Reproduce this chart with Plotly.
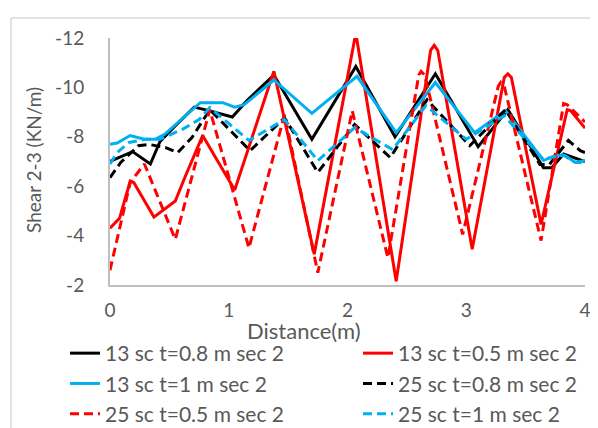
import plotly.graph_objects as go

# ---- data ----
x_13_08 = [0, 0.19, 0.34, 0.42, 0.54, 0.71, 0.84, 1.03, 1.16, 1.38, 1.70, 2.07, 2.40, 2.74, 3.10, 3.35, 3.65, 3.72, 3.82, 4.0]
y_13_08 = [-7.0, -7.4, -6.9, -7.8, -8.4, -9.2, -9.05, -8.8, -9.5, -10.5, -7.9, -10.85, -8.0, -10.55, -7.6, -9.1, -6.75, -6.75, -7.3, -7.0]

x_13_05 = [0, 0.08, 0.17, 0.20, 0.37, 0.55, 0.63, 0.78, 1.05, 1.38, 1.72, 2.07, 2.41, 2.70, 2.73, 2.76, 3.05, 3.32, 3.35, 3.38, 3.63, 3.85, 3.88, 4.0]
y_13_05 = [-4.3, -4.7, -6.2, -6.15, -4.75, -5.4, -6.35, -8.05, -5.85, -10.65, -3.25, -12.2, -2.15, -11.5, -11.7, -11.5, -3.45, -10.4, -10.55, -10.4, -4.45, -9.1, -9.05, -8.35]

x_13_1 = [0, 0.06, 0.17, 0.29, 0.38, 0.46, 0.76, 0.95, 1.05, 1.13, 1.38, 1.70, 2.08, 2.41, 2.74, 3.07, 3.33, 3.65, 3.75, 3.83, 3.92, 4.0]
y_13_1 = [-7.7, -7.75, -8.05, -7.9, -7.9, -8.1, -9.38, -9.38, -9.2, -9.3, -10.3, -8.95, -10.45, -8.17, -10.2, -8.17, -9.06, -7.04, -7.24, -7.24, -6.96, -7.04]

x_25_08 = [0, 0.09, 0.24, 0.33, 0.47, 0.57, 0.69, 0.84, 1.18, 1.47, 1.75, 2.06, 2.36, 2.67, 3.03, 3.33, 3.62, 3.70, 3.86, 3.96, 4.0]
y_25_08 = [-6.35, -6.96, -7.64, -7.69, -7.56, -7.36, -7.97, -9.1, -7.44, -8.77, -6.56, -8.5, -7.16, -9.5, -7.64, -9.1, -6.88, -6.88, -7.85, -7.44, -7.36]

x_25_05 = [0, 0.17, 0.29, 0.55, 0.84, 1.17, 1.47, 1.75, 2.04, 2.34, 2.60, 2.62, 2.65, 2.97, 3.27, 3.29, 3.32, 3.63, 3.82, 3.85, 4.0]
y_25_05 = [-2.6, -6.15, -6.9, -3.85, -9.1, -3.5, -8.9, -2.5, -9.05, -3.1, -10.5, -10.65, -10.5, -4.05, -10.05, -10.2, -10.05, -3.8, -9.35, -9.3, -8.6]

x_25_1 = [0, 0.06, 0.16, 0.30, 0.42, 0.61, 0.75, 0.84, 1.17, 1.47, 1.75, 2.06, 2.38, 2.66, 3.00, 3.32, 3.65, 3.81, 3.92, 4.0]
y_25_1 = [-6.9, -7.36, -7.77, -7.9, -7.9, -8.3, -8.7, -9.18, -7.85, -8.7, -7.03, -8.37, -7.48, -9.26, -7.9, -8.85, -7.08, -7.28, -6.96, -6.96]

# name, x, y, colour, dash, legend column
series = [
    ("13 sc t=0.8 m sec 2", x_13_08, y_13_08, "#000000", "solid", "legend"),
    ("13 sc t=0.5 m sec 2", x_13_05, y_13_05, "#FF0000", "solid", "legend2"),
    ("13 sc t=1 m sec 2", x_13_1, y_13_1, "#00B0F0", "solid", "legend"),
    ("25 sc t=0.8 m sec 2", x_25_08, y_25_08, "#000000", "9px,5px", "legend2"),
    ("25 sc t=0.5 m sec 2", x_25_05, y_25_05, "#FF0000", "9px,5px", "legend"),
    ("25 sc t=1 m sec 2", x_25_1, y_25_1, "#00B0F0", "9px,5px", "legend2"),
]

x_ticks = [0, 1, 2, 3, 4]
y_ticks = [-12, -10, -8, -6, -4, -2]
y_ticktext = ["-12", "-10", "-8", "-6", "-4", "-2"]

FONT = "Lato, 'Open Sans', sans-serif"
GRAY = "#595959"

fig = go.Figure()
for i, (name, xs, ys, color, dash, lg) in enumerate(series):
    fig.add_trace(go.Scatter(x=xs, y=ys, mode="lines", name=name, legend=lg,
                             legendgroup=f"g{i}",
                             line=dict(color=color, width=3, dash=dash)))

W, H = 598, 428
L, R, T, B = 102, 577, 30, 277


def px_x(px):
    return (px - L) / (R - L)


def px_y(py):
    return (B - py) / (B - T)


leg_common = dict(orientation="v", xref="paper", yref="paper",
                  xanchor="left", yanchor="top", tracegroupgap=0,
                  font=dict(size=21, color=GRAY), itemwidth=30,
                  bgcolor="rgba(0,0,0,0)")

fig.update_layout(
    width=W, height=H,
    margin=dict(l=L, r=W - R, t=T, b=H - B, autoexpand=False),
    paper_bgcolor="white", plot_bgcolor="white",
    font=dict(family=FONT, size=18, color=GRAY),
    showlegend=True,
    legend=dict(x=px_x(57), y=px_y(325), **leg_common),
    legend2=dict(x=px_x(350), y=px_y(325), **leg_common),
    xaxis=dict(range=[0, 4], tickvals=x_ticks, showgrid=False, zeroline=False,
               showline=True, linecolor="#BFBFBF", linewidth=2, ticks="",
               ticklabelstandoff=7, tickfont=dict(size=19, color=GRAY)),
    yaxis=dict(range=[-2, -12], tickvals=y_ticks, ticktext=y_ticktext,
               showgrid=False, zeroline=False,
               showline=True, linecolor="#BFBFBF", linewidth=2, ticks="",
               ticklabelstandoff=20, tickfont=dict(size=19, color=GRAY)),
    annotations=[
        dict(text="Distance(m)", xref="paper", yref="paper",
             x=px_x(296), y=px_y(322), showarrow=False,
             font=dict(size=22, color=GRAY), xanchor="center", yanchor="middle"),
        dict(text="Shear 2-3 (KN/m)", xref="paper", yref="paper",
             x=px_x(25), y=px_y(152), showarrow=False,
             textangle=-90, font=dict(size=19, color=GRAY),
             xanchor="center", yanchor="middle"),
    ],
    shapes=[
        dict(type="line", xref="paper", yref="paper",
             x0=px_x(3), x1=px_x(3), y0=px_y(10), y1=px_y(440),
             line=dict(color="#D9D9D9", width=1.5)),
        dict(type="line", xref="paper", yref="paper",
             x0=px_x(3), x1=px_x(610), y0=px_y(10), y1=px_y(10),
             line=dict(color="#D9D9D9", width=1.5)),
    ],
)

fig.write_html("out.html")
